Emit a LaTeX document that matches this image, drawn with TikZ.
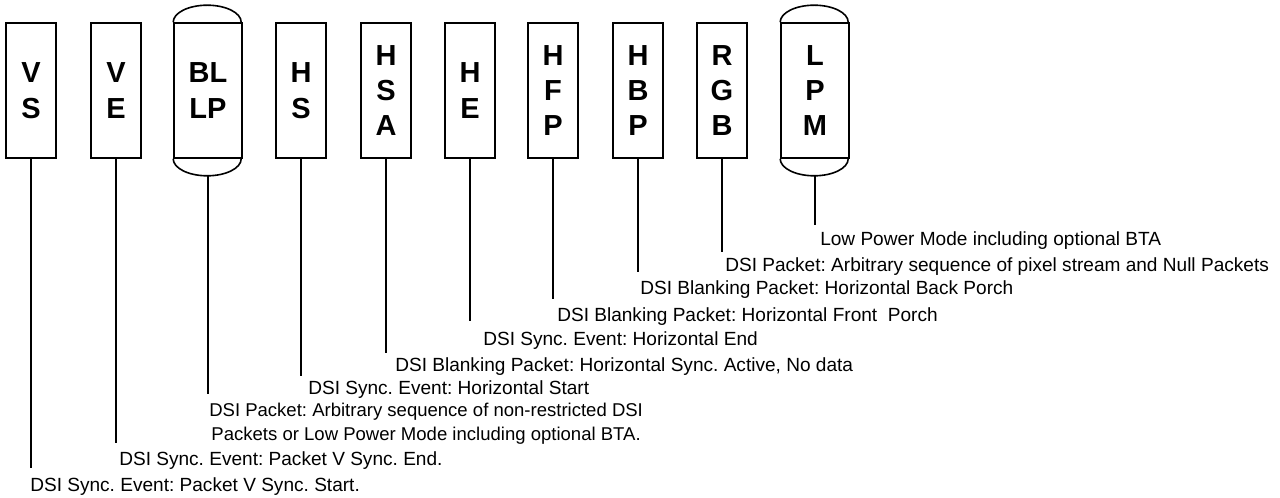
\documentclass[tikz,border=0pt]{standalone}
\usepackage{fontspec}
\setmainfont{Liberation Sans}
\usepackage{tikz}
\frenchspacing
\tikzset{
  pkt/.style={draw, line width=1.2pt, minimum width=37.5pt, minimum height=101.25pt,
    inner sep=0pt, align=center, font=\fontsize{21.75}{26.6}\selectfont\bfseries},
  lp/.style={pkt, minimum width=51pt},
  lead/.style={line width=0.9pt},
  lbl/.style={anchor=base west, inner sep=0pt, align=left,
    font=\fontsize{14.3}{17.6}\selectfont},
}

\begin{document}
\begin{tikzpicture}[x=0.75pt, y=-0.75pt]
  \useasboundingbox (0,0) rectangle (1280,498);
  % packet boxes
  \node[pkt] (vs)   at (31,90.5)  {V\\S};
  \node[pkt] (ve)   at (116,90.5) {V\\E};
  \node[lp]  (bllp) at (208,90.5) {BL\\LP};
  \node[pkt] (hs)   at (301,90.5) {H\\S};
  \node[pkt] (hsa)  at (386,90.5) {H\\S\\A};
  \node[pkt] (he)   at (470,90.5) {H\\E};
  \node[pkt] (hfp)  at (553,90.5) {H\\F\\P};
  \node[pkt] (hbp)  at (638,90.5) {H\\B\\P};
  \node[pkt] (rgb)  at (722,90.5) {R\\G\\B};
  \node[lp]  (lpm)  at (815,90.5) {L\\P\\M};
  \foreach \n in {bllp, lpm} {
    \draw[line width=1.2pt] (\n.north west) arc[start angle=180, end angle=0, x radius=25.5pt, y radius=12.75pt];
    \draw[line width=1.2pt] (\n.south west) arc[start angle=180, end angle=360, x radius=25.5pt, y radius=12.75pt];
  }
  % lead line ends
  \coordinate (vsEnd)   at (vs.south |- 0,468);
  \coordinate (veEnd)   at (ve.south |- 0,443);
  \coordinate (bllpEnd) at (0,394 -| bllp.south);
  \coordinate (hsEnd)   at (hs.south |- 0,376);
  \coordinate (hsaEnd)  at (hsa.south |- 0,353);
  \coordinate (heEnd)   at (he.south |- 0,321);
  \coordinate (hfpEnd)  at (hfp.south |- 0,299);
  \coordinate (hbpEnd)  at (hbp.south |- 0,272);
  \coordinate (rgbEnd)  at (rgb.south |- 0,252);
  \coordinate (lpmEnd)  at (0,225 -| lpm.south);
  \foreach \n in {vs, ve, hs, hsa, he, hfp, hbp, rgb} { \draw[lead] (\n.south) -- (\n End); }
  \draw[lead] ([yshift=-12.75pt]bllp.south) -- (bllpEnd);
  \draw[lead] ([yshift=-12.75pt]lpm.south) -- (lpmEnd);
  % descriptions
  \node[lbl] (lpmTxt)  at (820,246) {Low Power Mode including optional BTA};
  \node[lbl] (rgbTxt)  at (725,272) {DSI Packet: Arbitrary sequence of pixel stream and Null Packets};
  \node[lbl] (hbpTxt)  at (640,295) {DSI Blanking Packet: Horizontal Back Porch};
  \node[lbl] (hfpTxt)  at (557,322) {DSI Blanking Packet: Horizontal Front\ \ Porch};
  \node[lbl] (heTxt)   at (483,346) {DSI Sync. Event: Horizontal End};
  \node[lbl] (hsaTxt)  at (395,372) {DSI Blanking Packet: Horizontal Sync. Active, No data};
  \node[lbl] (hsTxt)   at (308,395) {DSI Sync. Event: Horizontal Start};
  \node[lbl, align=center, font=\fontsize{13.9}{17.6}\selectfont] (bllpTxt) at (209,440)
    {DSI Packet: Arbitrary sequence of non-restricted DSI\\Packets or Low Power Mode including optional BTA.};
  \node[lbl] (veTxt)   at (119,465) {DSI Sync. Event: Packet V Sync. End.};
  \node[lbl] (vsTxt)   at (30,491)  {DSI Sync. Event: Packet V Sync. Start.};
\end{tikzpicture}
\end{document}
